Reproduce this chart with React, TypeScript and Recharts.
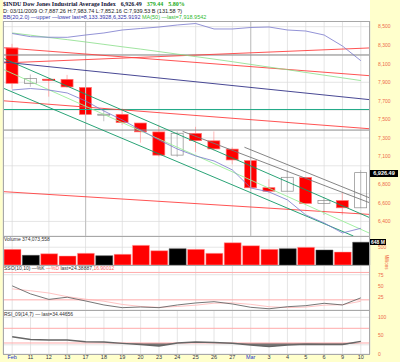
import React from "react";
import {
  ComposedChart,
  Bar,
  Line,
  Area,
  XAxis,
  YAxis,
  CartesianGrid,
  ReferenceLine,
  Cell,
} from "recharts";

// trading days, Feb 10 - Mar 10 2009
const days = ["Feb", "11", "12", "13", "17", "18", "19", "20", "23", "24", "25", "26", "27", "Mar", "3", "4", "5", "6", "9", "10"];
const opens = [8271, 7887, 7933, 7932, 7845, 7553, 7555, 7461, 7365, 7115, 7349, 7269, 7180, 7056, 6764, 6726, 6874, 6595, 6625, 6547];
const highs = [8315, 7984, 7945, 7980, 7845, 7620, 7620, 7460, 7441, 7371, 7420, 7370, 7200, 7056, 6855, 6954, 6874, 6662, 6710, 6953];
const lows = [7831, 7852, 7745, 7840, 7530, 7480, 7440, 7249, 7100, 7095, 7150, 7165, 7016, 6736, 6705, 6726, 6583, 6469, 6470, 6547];
const closes = [7889, 7940, 7933, 7850, 7553, 7556, 7466, 7366, 7115, 7351, 7271, 7182, 7063, 6763, 6726, 6876, 6594, 6627, 6547, 6926];
const upDay = [false, true, false, false, false, true, false, false, false, true, false, false, false, false, false, true, false, true, false, true];

const bbUpper = [8426, 8392, 8386, 8385, 8410, 8432, 8464, 8480, 8496, 8518, 8534, 8475, 8475, 8491, 8496, 8464, 8453, 8410, 8291, 8133];
const bbLower = [7817, 7833, 7817, 7785, 7699, 7591, 7494, 7386, 7278, 7181, 7106, 7052, 6955, 6761, 6718, 6632, 6470, 6383, 6276, 6326];
const ma50 = [8432, 8408, 8383, 8360, 8335, 8309, 8283, 8258, 8231, 8204, 8177, 8150, 8122, 8093, 8064, 8036, 8006, 7977, 7948, 7919];

const volumes = [441, 272, 317, 253, 329, 261, 301, 553, 402, 458, 441, 329, 626, 542, 441, 458, 497, 421, 365, 640];

const stochK = [50.7, 33, 21, 25.8, 17.6, 8.8, 2.9, 4.4, 2.9, 8.8, 13.2, 16, 11, 3.7, 0.5, 5, 7.3, 12.5, 8.8, 24.4];
const stochD = [44, 40, 35, 27, 21.5, 17, 10, 5.5, 3.5, 5.5, 8.3, 12.7, 13.4, 10.2, 5, 3, 4.2, 8.3, 9.5, 16.9];
const rsi = [47, 39.5, 38, 38, 33.5, 32.7, 29, 26, 21.8, 30, 32.7, 31.3, 29.2, 24.5, 20, 24.5, 26.4, 26, 26, 34.4];

// 6,900 sits behind the last-price tag, so it is left out
const priceTicks = [6300, 6400, 6500, 6600, 6700, 6800, 7000, 7100, 7200, 7300, 7400, 7500, 7600, 7700, 7800, 7900, 8000, 8100, 8200, 8300, 8400, 8500];
const volTicks = [0, 250, 500];
const stochTicks = [25, 50, 75];
const rsiTicks = [0, 25, 50, 75, 100];

// annotation lines: [startIndex, startPrice, endIndex, endPrice, colour]
const trendLines: [number, number, number, number, string][] = [
  [-0.5, 8104, 19.5, 8275, "#ff4040"],
  [-0.5, 8281, 19.5, 7963, "#ff4040"],
  [-0.5, 8130, 19.5, 7702, "#333388"],
  [-0.5, 7709, 19.5, 7391, "#ff4040"],
  [-0.5, 6728, 19.5, 6469, "#ff4040"],
  [-0.5, 8205, 19.5, 6394, "#119966"],
  [-0.5, 7882, 18.14, 6243, "#119966"],
  [-0.5, 8087, 19.3, 6243, "#99ee99"],
  [9.3, 7371, 19.5, 6560, "#777777"],
  [12.5, 7200, 19.5, 6610, "#777777"],
];
const flatLines: [number, string][] = [
  [8194, "#8c8c8c"],
  [7385, "#8c8c8c"],
  [7607, "#22aa88"],
];
const weekStarts = ["17", "Mar"];

const rows = days.map((d, i) => ({
  d,
  i,
  o: opens[i],
  h: highs[i],
  l: lows[i],
  c: closes[i],
  up: upDay[i],
  bbU: bbUpper[i],
  bbL: bbLower[i],
  ma: ma50[i],
  v: volumes[i],
  k: stochK[i],
  sd: stochD[i],
  rsi: rsi[i],
  rsiLow: [Math.min(rsi[i], 30), 30],
}));

const axisFont = { fontSize: 5, fill: "#ee6a48", fontFamily: "Liberation Sans" };
const gridColor = "#dadada";

const Candle = (props: any) => {
  const { x, y, width, height, payload } = props;
  const span = payload.h - payload.l || 1;
  const k = height / span;
  const yo = y + (payload.h - payload.o) * k;
  const yc = y + (payload.h - payload.c) * k;
  const cx = x + width / 2;
  const top = Math.min(yo, yc);
  const bh = Math.max(Math.abs(yc - yo), 1);
  const filled = payload.c < payload.o;
  const color = payload.up ? "#8a8a8a" : "#ff0000";
  return (
    <g>
      <line x1={cx} x2={cx} y1={y} y2={y + height} stroke={payload.up ? "#aaaaaa" : "#ff9a9a"} strokeWidth={0.7} />
      <rect x={x} y={top} width={width} height={bh} fill={filled ? color : "none"} stroke={filled ? "#ff7070" : color} strokeWidth={0.7} />
    </g>
  );
};

const DayTick = (props: any) => {
  const { x, y, payload } = props;
  const month = payload.value === "Feb" || payload.value === "Mar";
  return (
    <text x={x} y={y + 5} textAnchor="middle" fontSize={5.5} fontFamily="Liberation Sans" fill={month ? "#2233cc" : "#333344"}>
      {payload.value}
    </text>
  );
};

const fmt = (v: number) => v.toLocaleString("en-US");

const panel = (top: number, height: number): React.CSSProperties => ({
  position: "absolute",
  left: 3,
  top,
  width: 367,
  height,
  border: "1px solid #a8a8a8",
  boxSizing: "border-box",
  pointerEvents: "none",
});

const txt: React.CSSProperties = {
  position: "absolute",
  fontFamily: "Liberation Sans",
  fontSize: 5.5,
  whiteSpace: "nowrap",
  lineHeight: "6px",
};

export default function App() {
  return (
    <div style={{ position: "absolute", left: 0, top: 0, width: 400, height: 362, background: "#ffffcc", overflow: "hidden" }}>
      <div style={{ position: "absolute", left: 3, top: 0, width: 367, height: 354, background: "#ffffff" }} />

      <div style={{ ...txt, left: 3, top: 1, fontWeight: "bold", fontFamily: "Liberation Serif", fontSize: 6 }}>
        <span style={{ color: "#111133" }}>$INDU Dow Jones Industrial Average Index</span>
        <span style={{ color: "#111133", marginLeft: 5 }}>6,926.49</span>
        <span style={{ color: "#22aa22", marginLeft: 5 }}>379.44</span>
        <span style={{ color: "#22aa22", marginLeft: 5 }}>5.80%</span>
      </div>
      <div style={{ ...txt, left: 3, top: 8, color: "#222222" }}>
        D: 03/11/2009 O:7,887.26 H:7,983.74 L:7,852.16 C:7,939.53 B (131.58 ?)
      </div>
      <div style={{ ...txt, left: 3, top: 14 }}>
        <span style={{ color: "#3333aa" }}>BB(20,2.0) —upper —lower last=8,133.3928,6,325.9192 </span>
        <span style={{ color: "#33bb33" }}>MA(50) —last=7,918.9542</span>
      </div>

      {/* price panel */}
      <div style={{ position: "absolute", left: 0, top: 21 }}>
        <ComposedChart width={400} height={215} data={rows} margin={{ top: 0, right: 0, bottom: 0, left: 3 }}>
          <CartesianGrid stroke={gridColor} strokeWidth={0.7} />
          <XAxis dataKey="d" hide scale="band" />
          <XAxis xAxisId="n" type="number" domain={[-0.5, 19.5]} hide allowDataOverflow />
          <YAxis orientation="right" width={30} domain={[6243, 8561]} ticks={priceTicks} tickFormatter={fmt} tick={axisFont} axisLine={false} tickLine={false} allowDataOverflow />
          {weekStarts.map((w) => (
            <ReferenceLine key={w} x={w} stroke="#c4c4c4" strokeWidth={1.2} />
          ))}
          {flatLines.map(([p, col], j) => (
            <ReferenceLine key={"f" + j} y={p} stroke={col} strokeWidth={1} />
          ))}
          {trendLines.map(([i1, p1, i2, p2, col], j) => (
            <ReferenceLine
              key={"t" + j}
              xAxisId="n"
              segment={[{ x: i1, y: p1 }, { x: i2, y: p2 }]}
              stroke={col}
              strokeWidth={0.9}
              ifOverflow="hidden"
            />
          ))}
          <Line dataKey="ma" stroke="#88dd88" strokeWidth={0.8} dot={false} isAnimationActive={false} />
          <Line dataKey="bbU" stroke="#7777cc" strokeWidth={0.8} dot={false} isAnimationActive={false} />
          <Line dataKey="bbL" stroke="#7777cc" strokeWidth={0.8} dot={false} isAnimationActive={false} />
          <Bar dataKey={(r: any) => [r.l, r.h]} barSize={12} shape={Candle} isAnimationActive={false} />
        </ComposedChart>
      </div>

      {/* volume panel */}
      <div style={{ position: "absolute", left: 0, top: 236 }}>
        <ComposedChart width={400} height={29} data={rows} margin={{ top: 0, right: 0, bottom: 0, left: 3 }}>
          <CartesianGrid stroke={gridColor} strokeWidth={0.7} />
          <XAxis dataKey="d" hide scale="band" />
          <YAxis orientation="right" width={30} domain={[0, 815]} ticks={volTicks} tick={axisFont} axisLine={false} tickLine={false} />
          <Bar dataKey="v" barSize={17} isAnimationActive={false} stroke="#ffb0b0" strokeWidth={0.5}>
            {rows.map((r) => (
              <Cell key={r.d} fill={r.up ? "#000000" : "#ff0000"} stroke={r.up ? "#555555" : "#ffaaaa"} />
            ))}
          </Bar>
        </ComposedChart>
      </div>

      {/* slow stochastic */}
      <div style={{ position: "absolute", left: 0, top: 265 }}>
        <ComposedChart width={400} height={45} data={rows} margin={{ top: 0, right: 0, bottom: 0, left: 3 }}>
          <CartesianGrid stroke={gridColor} strokeWidth={0.7} />
          <XAxis dataKey="d" hide scale="band" />
          <YAxis orientation="right" width={30} domain={[-2.2, 96.3]} ticks={stochTicks} tick={axisFont} axisLine={false} tickLine={false} allowDataOverflow />
          <ReferenceLine y={80} stroke="#ffaaaa" strokeWidth={1} />
          <ReferenceLine y={20} stroke="#ffaaaa" strokeWidth={1} />
          <Line dataKey="sd" stroke="#ffb4b4" strokeWidth={0.8} dot={false} isAnimationActive={false} />
          <Line dataKey="k" stroke="#666666" strokeWidth={0.9} dot={false} isAnimationActive={false} />
        </ComposedChart>
      </div>

      {/* RSI */}
      <div style={{ position: "absolute", left: 0, top: 310 }}>
        <ComposedChart width={400} height={52} data={rows} margin={{ top: 0, right: 0, bottom: 0, left: 3 }}>
          <CartesianGrid stroke={gridColor} strokeWidth={0.7} />
          <XAxis dataKey="d" scale="band" height={8} tick={DayTick} axisLine={false} tickLine={false} tickSize={0} tickMargin={0} interval={0} />
          <YAxis orientation="right" width={30} domain={[0, 119.9]} ticks={rsiTicks} tick={axisFont} axisLine={false} tickLine={false} />
          <ReferenceLine y={70} stroke="#ffaaaa" strokeWidth={1} />
          <ReferenceLine y={30} stroke="#ffaaaa" strokeWidth={1} />
          <Area dataKey="rsiLow" stroke="none" fill="#666666" fillOpacity={0.9} isAnimationActive={false} />
          <Line dataKey="rsi" stroke="#666666" strokeWidth={1.4} dot={false} isAnimationActive={false} />
        </ComposedChart>
      </div>

      <div style={panel(21, 216)} />
      <div style={panel(236, 30)} />
      <div style={panel(265, 46)} />
      <div style={panel(310, 45)} />

      <div style={{ ...txt, left: 4, top: 236, color: "#333333", fontSize: 5 }}>Volume 374,073,558</div>
      <div style={{ ...txt, left: 4, top: 265, fontSize: 5 }}>
        <span style={{ color: "#333333" }}>SSO(10,10) —%K </span>
        <span style={{ color: "#ff6666" }}>—%D </span>
        <span style={{ color: "#333333" }}>last=24.38887,</span>
        <span style={{ color: "#ff6666" }}>16.90012</span>
      </div>
      <div style={{ ...txt, left: 4, top: 311, color: "#333333", fontSize: 5 }}>RSI_09(14,7) — last=34.44656</div>

      <div style={{ ...txt, left: 370, top: 170, width: 28, height: 7, background: "#000", color: "#fff", fontWeight: "bold", fontSize: 5.5, lineHeight: "7px", textAlign: "center" }}>
        6,926.49
      </div>
      <div style={{ ...txt, left: 370, top: 238.5, width: 16, height: 6.5, background: "#000", color: "#fff", fontWeight: "bold", fontSize: 5, lineHeight: "6.5px", textAlign: "center" }}>
        648 M
      </div>
      <div style={{ ...txt, left: 378, top: 259, color: "#ee6a48", fontSize: 4.5, transform: "rotate(90deg)" }}>Millions</div>
    </div>
  );
}
